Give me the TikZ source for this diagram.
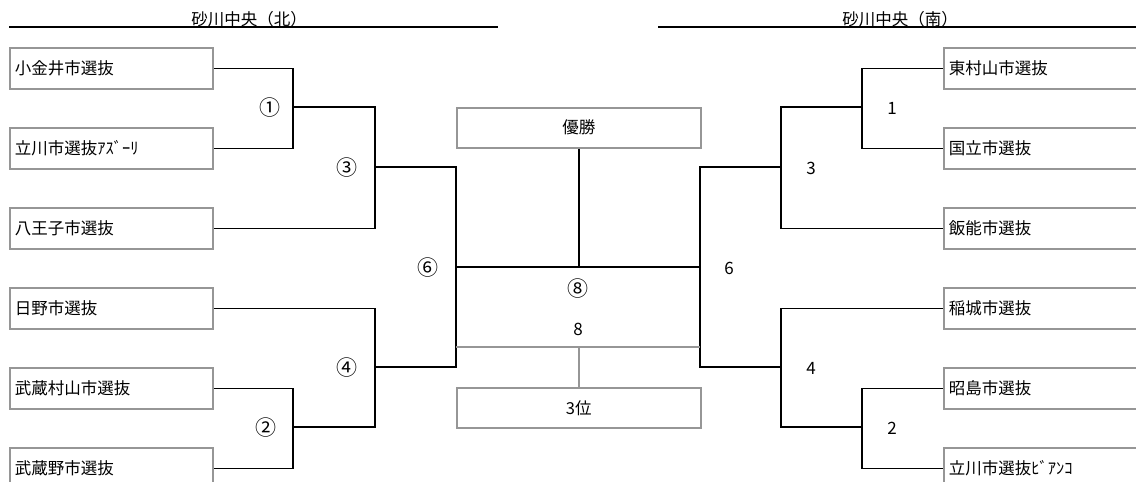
\documentclass[tikz,border=0pt]{standalone}
\usepackage{fontspec}
\setmainfont{Noto Sans CJK JP}
\definecolor{boxgray}{RGB}{150,150,150}
\begin{document}
\begin{tikzpicture}[x=1pt,y=-1pt,
  team/.style={draw=boxgray, line width=1.8pt, minimum height=41pt, inner xsep=5pt, inner ysep=0pt,
    text width=193pt, align=left, font=\fontsize{16.5}{16.5}\selectfont, anchor=north west},
  cbox/.style={draw=boxgray, line width=1.5pt, minimum width=244pt, minimum height=40pt, inner sep=0pt,
    font=\fontsize{16.5}{16.5}\selectfont, anchor=north west},
  brk/.style={line width=1.6pt, black},
  gline/.style={line width=1.6pt, boxgray},
  num/.style={font=\fontsize{17}{17}\selectfont, inner sep=0pt},
  cnum/.style={font=\fontsize{21}{21}\selectfont, inner sep=0pt},
  ttl/.style={font=\fontsize{16.5}{16.5}\selectfont, inner sep=0pt, anchor=base}]
\useasboundingbox (0,0) rectangle (1136,482);
\clip (0,0) rectangle (1136,482);
% titles
\node[ttl] (tn) at (249,25) {砂川中央（北）};
\node[ttl] (ts) at (900,25) {砂川中央（南）};
\coordinate (tl1) at (9,27);
\coordinate (tl2) at (498,27);
\coordinate (tr1) at (658,27);
\coordinate (tr2) at (1136,27);
\draw[line width=1.3pt] (tl1) -- (tl2);
\draw[line width=1.3pt] (tr1) -- (tr2);
% left teams
\node[team] (b1) at (9,47)  {小金井市選抜};
\node[team] (b2) at (9,127) {立川市選抜ｱｽﾞｰﾘ};
\node[team] (b3) at (9,207) {八王子市選抜};
\node[team] (b4) at (9,287) {日野市選抜};
\node[team] (b5) at (9,367) {武蔵村山市選抜};
\node[team] (b6) at (9,447) {武蔵野市選抜};
% right teams
\node[team] (r1) at (943,47)  {東村山市選抜};
\node[team] (r2) at (943,127) {国立市選抜};
\node[team] (r3) at (943,207) {飯能市選抜};
\node[team] (r4) at (943,287) {稲城市選抜};
\node[team] (r5) at (943,367) {昭島市選抜};
\node[team] (r6) at (943,447) {立川市選抜ﾋﾞｱﾝｺ};
% centre boxes
\node[cbox] (win) at (456,107) {優勝};
\node[cbox] (third) at (456,387) {3位};
% match points
\coordinate (m1) at (293,107);
\coordinate (m2) at (293,427);
\coordinate (m3) at (375,167);
\coordinate (m4) at (375,367);
\coordinate (m6) at (456,267);
\coordinate (n1) at (862,107);
\coordinate (n2) at (862,427);
\coordinate (n3) at (781,167);
\coordinate (n4) at (781,367);
\coordinate (n6) at (700,267);
\coordinate (g1) at (456,347);
\coordinate (g2) at (700,347);
% left bracket
\draw[brk] (b1.east) -| (m1) |- (b2.east);
\draw[brk] (m1) -| (m3) |- (b3.east);
\draw[brk] (b4.east) -| (m4) |- (m2);
\draw[brk] (b5.east) -| (m2) |- (b6.east);
\draw[brk] (m3) -| (m6) |- (m4);
% right bracket
\draw[brk] (r1.west) -| (n1) |- (r2.west);
\draw[brk] (n1) -| (n3) |- (r3.west);
\draw[brk] (r4.west) -| (n4) |- (n2);
\draw[brk] (r5.west) -| (n2) |- (r6.west);
\draw[brk] (n3) -| (n6) |- (n4);
% final
\draw[brk] (m6) -- (n6);
\draw[brk] (win.south) -- (win.south |- m6);
\draw[gline] (g1) -- (g2);
\draw[gline] (third.north) -- (third.north |- g1);
% labels
\node[cnum] (l1) at (270,108) {①};
\node[cnum] (l3) at (347,168) {③};
\node[cnum] (l4) at (347,368) {④};
\node[cnum] (l2) at (266,428) {②};
\node[cnum] (l6) at (428,268) {⑥};
\node[cnum] (l8) at (578,289) {⑧};
\node[num] (k8) at (578,329) {8};
\node[num] (k1) at (892,108) {1};
\node[num] (k3) at (811,168) {3};
\node[num] (k4) at (811,368) {4};
\node[num] (k2) at (892,428) {2};
\node[num] (k6) at (729,268) {6};
\end{tikzpicture}
\end{document}
